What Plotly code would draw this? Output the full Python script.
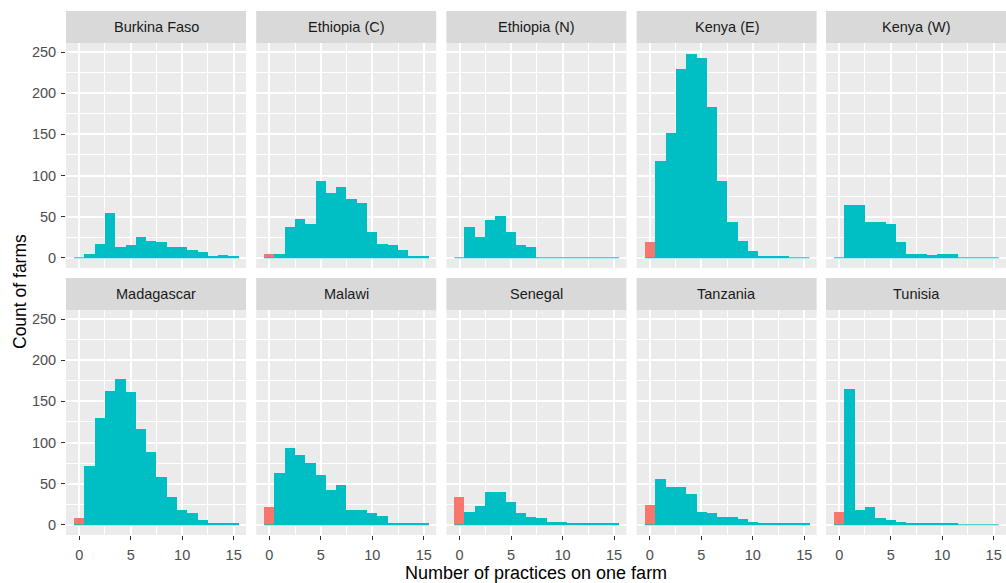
import plotly.graph_objects as go

# Farms per country, binned by number of practices adopted (0..15)
countries = ["Burkina Faso", "Ethiopia (C)", "Ethiopia (N)", "Kenya (E)", "Kenya (W)",
             "Madagascar", "Malawi", "Senegal", "Tanzania", "Tunisia"]
practices = list(range(16))

# farms with no practice at all (bin 0)
zero_practice = [0, 5, 0, 19, 0, 8, 22, 34, 24, 16]

# farms with 1..15 practices
burkina_faso = [5, 17, 54, 13, 15, 25, 21, 19, 13, 13, 9, 7, 1, 3, 1]
ethiopia_c = [5, 37, 47, 41, 93, 79, 86, 72, 66, 31, 17, 15, 9, 1, 1]
ethiopia_n = [37, 25, 46, 51, 31, 15, 13, 0, 0, 0, 0, 0, 0, 0, 0]
kenya_e = [118, 152, 230, 248, 243, 183, 93, 43, 21, 8, 2, 1, 1, 0, 0]
kenya_w = [64, 64, 44, 44, 41, 19, 5, 5, 3, 5, 5, 0, 0, 0, 0]
madagascar = [71, 130, 163, 177, 161, 116, 89, 58, 34, 18, 14, 6, 1, 1, 1]
malawi = [63, 93, 85, 75, 61, 42, 48, 18, 18, 14, 11, 1, 1, 1, 1]
senegal = [15, 23, 40, 40, 28, 14, 10, 8, 3, 3, 1, 1, 1, 1, 1]
tanzania = [56, 46, 46, 38, 16, 14, 10, 9, 7, 3, 1, 1, 1, 1, 1]
tunisia = [165, 18, 22, 8, 6, 3, 1, 1, 1, 1, 1, 0, 0, 0, 0]

some_practice = [burkina_faso, ethiopia_c, ethiopia_n, kenya_e, kenya_w,
                 madagascar, malawi, senegal, tanzania, tunisia]

x_ticks = [0, 5, 10, 15]
y_ticks = [0, 50, 100, 150, 200, 250]

RED = "#F8766D"
TEAL = "#00BFC4"
FONT = "Liberation Sans, Arial, sans-serif"

W, H = 1006, 583
col_left = [66, 256.2, 446.4, 636.6, 826.0]
panel_w = 180
# (strip top, panel top, panel bottom) in pixels for each facet row
row_px = [(11, 43, 268), (278, 310, 535)]

fig = go.Figure()
shapes, annotations = [], []

for i, (name, counts) in enumerate(zip(countries, some_practice)):
    r, c = divmod(i, 5)
    n = i + 1
    xa = "x" if n == 1 else f"x{n}"
    ya = "y" if n == 1 else f"y{n}"

    fig.add_trace(go.Bar(x=practices[1:], y=counts, width=1,
                         marker=dict(color=TEAL, line=dict(width=0)),
                         xaxis=xa, yaxis=ya, showlegend=False, hoverinfo="x+y"))
    fig.add_trace(go.Bar(x=practices[:1], y=[zero_practice[i]], width=1,
                         marker=dict(color=RED, line=dict(width=0)),
                         xaxis=xa, yaxis=ya, showlegend=False, hoverinfo="x+y"))
    # empty bins render as a thin line along zero
    fig.add_trace(go.Scatter(x=[practices[0] - 0.5, practices[-1] + 0.5], y=[0, 0],
                             mode="lines", line=dict(color=TEAL, width=1),
                             xaxis=xa, yaxis=ya, showlegend=False, hoverinfo="skip"))

    x0 = col_left[c]
    x1 = min(x0 + panel_w, W)
    st, pt, pb = row_px[r]
    bottom_row = r == 1
    first_col = c == 0

    fig.layout[f"xaxis{'' if n == 1 else n}"] = dict(
        domain=[x0 / W, x1 / W], anchor=ya, range=[-1.28, 16.2],
        tickvals=x_ticks, showticklabels=bottom_row,
        ticks="outside" if bottom_row else "", ticklen=4, tickwidth=1, tickcolor="#333333",
        ticklabelstandoff=3,
        tickfont=dict(family=FONT, size=14.5, color="#4D4D4D"),
        showgrid=True, gridcolor="white", gridwidth=1.8,
        minor=dict(tickvals=[2.5, 7.5, 12.5], showgrid=True, gridcolor="white", gridwidth=0.9),
        zeroline=False, showline=False, fixedrange=True,
    )
    fig.layout[f"yaxis{'' if n == 1 else n}"] = dict(
        domain=[1 - pb / H, 1 - pt / H], anchor=xa, range=[-12.4, 261],
        tickvals=y_ticks, showticklabels=first_col,
        ticks="outside" if first_col else "", ticklen=4, tickwidth=1, tickcolor="#333333",
        ticklabelstandoff=2,
        tickfont=dict(family=FONT, size=14.5, color="#4D4D4D"),
        showgrid=True, gridcolor="white", gridwidth=1.8,
        minor=dict(tickvals=[25, 75, 125, 175, 225], showgrid=True, gridcolor="white", gridwidth=0.9),
        zeroline=False, showline=False, fixedrange=True,
    )

    # facet strip
    shapes.append(dict(type="rect", xref="paper", yref="paper",
                       x0=x0 / W, x1=x1 / W, y0=1 - pt / H, y1=1 - st / H,
                       fillcolor="#D9D9D9", line=dict(width=0), layer="below"))
    annotations.append(dict(text=name, xref="paper", yref="paper",
                            x=(x0 + x1) / 2 / W, y=1 - (st + pt) / 2 / H,
                            xanchor="center", yanchor="middle", showarrow=False,
                            font=dict(family=FONT, size=14.5, color="#1A1A1A")))

annotations.append(dict(text="Number of practices on one farm", xref="paper", yref="paper",
                        x=(col_left[0] + W) / 2 / W, y=1 - 561 / H,
                        xanchor="center", yanchor="top", showarrow=False,
                        font=dict(family=FONT, size=18, color="black")))
annotations.append(dict(text="Count of farms", xref="paper", yref="paper",
                        x=20 / W, y=1 - 292 / H, textangle=-90,
                        xanchor="center", yanchor="middle", showarrow=False,
                        font=dict(family=FONT, size=17.5, color="black")))

fig.update_layout(
    width=W, height=H, margin=dict(l=0, r=0, t=0, b=0),
    paper_bgcolor="white", plot_bgcolor="#EBEBEB",
    barmode="overlay", bargap=0,
    shapes=shapes, annotations=annotations, showlegend=False,
)

fig.write_html("out.html")
